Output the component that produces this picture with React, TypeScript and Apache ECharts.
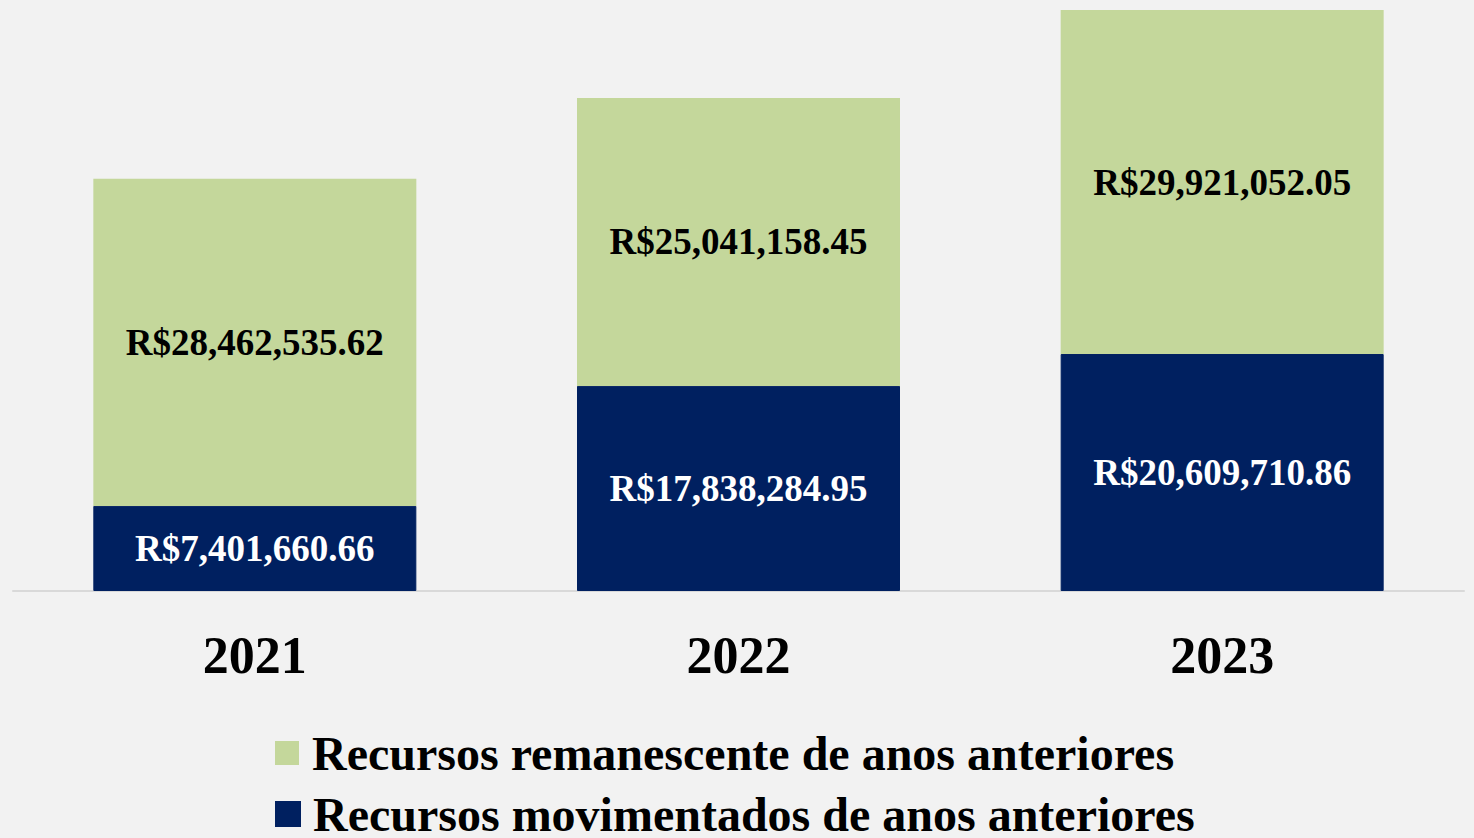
import React, { useEffect, useRef } from "react";
import * as echarts from "echarts";

const categories = ["2021", "2022", "2023"];
const movimentados = [7401660.66, 17838284.95, 20609710.86];
const remanescente = [28462535.62, 25041158.45, 29921052.05];
const seriesNames = [
  "Recursos remanescente de anos anteriores",
  "Recursos movimentados de anos anteriores",
];

const fmt = (v: number) =>
  "R$" +
  v.toLocaleString("en-US", { minimumFractionDigits: 2, maximumFractionDigits: 2 });

export default function App() {
  const ref = useRef<HTMLDivElement>(null);
  useEffect(() => {
    if (!ref.current) return;
    const chart = echarts.init(ref.current, undefined, { renderer: "svg" });
    const totals = categories.map((_, i) => movimentados[i] + remanescente[i]);
    const font = "'Liberation Serif', 'Times New Roman', serif";
    const legendBase = {
      orient: "horizontal",
      left: 270,
      itemWidth: 24,
      itemHeight: 24,
      icon: "rect",
      textStyle: {
        fontFamily: font,
        fontWeight: "bold",
        fontSize: 48,
        color: "#000",
        lineHeight: 48,
        padding: [0, 0, 0, 8],
      },
    };
    chart.setOption({
      animation: false,
      backgroundColor: "#f2f2f2",
      grid: { left: 13, right: 10, top: 10, bottom: 247 },
      legend: [
        { ...legendBase, top: 724, data: [seriesNames[0]] },
        { ...legendBase, top: 785, data: [seriesNames[1]] },
      ],
      xAxis: {
        type: "category",
        data: categories,
        axisLine: { lineStyle: { color: "#d9d9d9", width: 2 } },
        axisTick: { show: false },
        axisLabel: {
          margin: 38,
          fontFamily: font,
          fontWeight: "bold",
          fontSize: 52,
          color: "#000",
        },
      },
      yAxis: {
        type: "value",
        min: 0,
        max: Math.max(...totals),
        show: false,
        splitLine: { show: false },
      },
      series: [
        {
          name: seriesNames[1],
          type: "bar",
          stack: "total",
          barWidth: 323,
          data: movimentados,
          itemStyle: { color: "#002060", borderColor: "#002060", borderWidth: 1 },
          label: {
            show: true,
            position: "inside",
            formatter: (p: any) => fmt(p.value),
            fontFamily: font,
            fontWeight: "bold",
            fontSize: 37,
            color: "#ffffff",
          },
        },
        {
          name: seriesNames[0],
          type: "bar",
          stack: "total",
          barWidth: 323,
          data: remanescente,
          itemStyle: { color: "#c4d79b" },
          label: {
            show: true,
            position: "inside",
            formatter: (p: any) => fmt(p.value),
            fontFamily: font,
            fontWeight: "bold",
            fontSize: 37,
            color: "#000000",
          },
        },
      ],
    });
    return () => chart.dispose();
  }, []);
  return (
    <div
      ref={ref}
      style={{ position: "fixed", left: 0, top: 0, width: 1474, height: 838 }}
    />
  );
}
